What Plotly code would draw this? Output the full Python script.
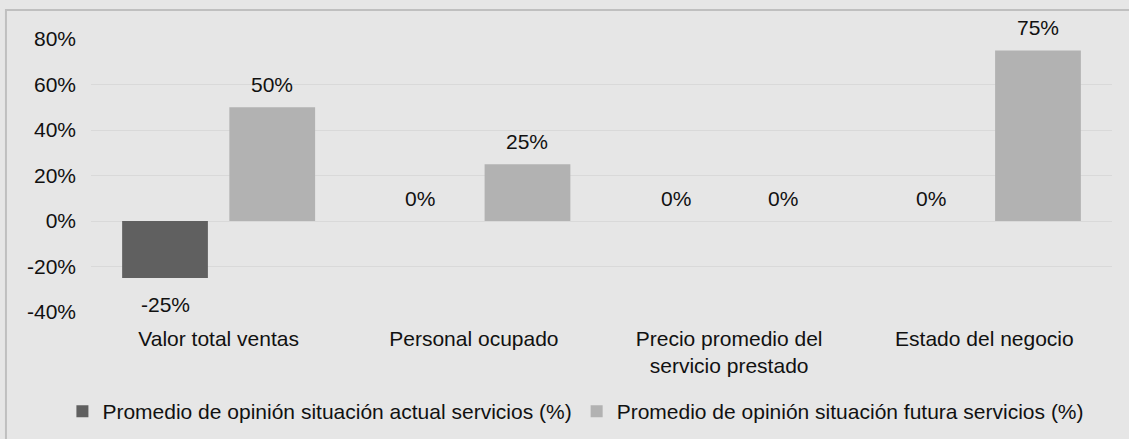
import plotly.graph_objects as go

categories = ["Valor total ventas", "Personal ocupado",
              "Precio promedio del<br>servicio prestado", "Estado del negocio"]
actual_values = [-0.25, 0.0, 0.0, 0.0]
futura_values = [0.50, 0.25, 0.0, 0.75]
series_names = ["Promedio de opinión situación actual servicios (%)",
                "Promedio de opinión situación futura servicios (%)"]
y_ticks = [-0.4, -0.2, 0.0, 0.2, 0.4, 0.6, 0.8]
y_ticktext = [f"{round(v * 100)}%" for v in y_ticks]

DARK = "#606060"
LIGHT = "#B2B2B2"
BG = "#E6E6E6"
FONT = "Liberation Sans, Arial, sans-serif"
FS = 21
TXT = "#111111"

fig = go.Figure()
fig.add_trace(go.Bar(x=categories, y=actual_values, name=series_names[0],
                     marker=dict(color=DARK, line=dict(width=0))))
fig.add_trace(go.Bar(x=categories, y=futura_values, name=series_names[1],
                     marker=dict(color=LIGHT, line=dict(width=0))))

# data labels
offsets = [-53.6, 53.6]
annotations = []
for vals, xs in zip([actual_values, futura_values], offsets):
    for c, v in zip(categories, vals):
        annotations.append(dict(
            x=c, y=v, xref="x", yref="y", text=f"{round(v * 100)}%", showarrow=False,
            xshift=xs, yshift=(-27 if v < 0 else 23),
            font=dict(family=FONT, size=FS, color=TXT),
            xanchor="center", yanchor="middle"))

fig.update_layout(
    width=1129, height=439,
    margin=dict(l=91, r=17, t=39, b=127, autoexpand=False),
    paper_bgcolor=BG, plot_bgcolor=BG,
    barmode="group", bargap=0.16, bargroupgap=0.2,
    font=dict(family=FONT, size=FS, color=TXT),
    showlegend=True,
    legend=dict(orientation="h", x=-0.028, y=-0.365, xanchor="left", yanchor="middle",
                font=dict(family=FONT, size=FS, color=TXT),
                bgcolor="rgba(0,0,0,0)", itemwidth=30, tracegroupgap=0),
    annotations=annotations,
    shapes=[dict(type="rect", xref="paper", yref="paper",
                 x0=-0.0833, x1=1.03, y0=-0.52, y1=1.106,
                 line=dict(color="#BFBFBF", width=2), fillcolor="rgba(0,0,0,0)",
                 layer="below")],
)
fig.update_yaxes(range=[-0.4, 0.8], tickvals=y_ticks, ticktext=y_ticktext,
                 showgrid=True, gridcolor="#D9D9D9", gridwidth=1,
                 zeroline=True, zerolinecolor="#D9D9D9", zerolinewidth=1,
                 showline=False, ticks="", ticklabelstandoff=14, automargin=False,
                 tickfont=dict(family=FONT, size=FS, color=TXT))
fig.update_xaxes(showgrid=False, showline=False, ticks="", ticklabelstandoff=12,
                 automargin=False,
                 tickfont=dict(family=FONT, size=FS, color=TXT))

fig.write_html("out.html", config={"displayModeBar": False},
               post_script="document.body.style.margin='0';document.body.style.background='%s';" % BG)
